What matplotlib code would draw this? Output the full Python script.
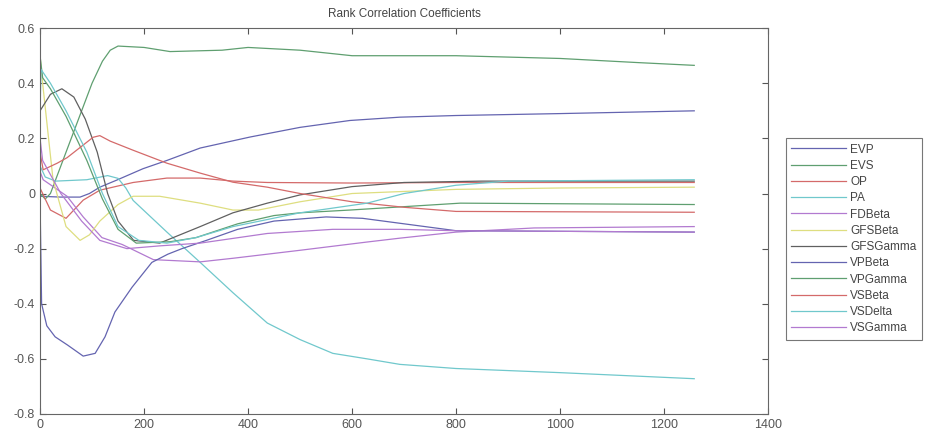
import numpy as np
from matplotlib import pyplot as plt

# values (x = iteration, y = rank correlation)
labels = ["EVP", "EVS", "OP", "PA", "FDBeta", "GFSBeta", "GFSGamma",
          "VPBeta", "VPGamma", "VSBeta", "VSDelta", "VSGamma"]

evp_x = [0, 40, 77, 95, 115, 148, 198, 244, 308, 404, 500, 596, 692, 800, 1000, 1258]
evp_y = [-0.01, -0.013, -0.013, 0.0, 0.023, 0.049, 0.09, 0.12, 0.165, 0.205, 0.24, 0.265, 0.277, 0.283, 0.29, 0.30]

evs_x = [0, 10, 20, 60, 100, 120, 135, 150, 200, 250, 350, 400, 500, 600, 800, 1000, 1150, 1258]
evs_y = [0.0, -0.02, 0.0, 0.2, 0.4, 0.48, 0.52, 0.535, 0.53, 0.515, 0.52, 0.53, 0.52, 0.5, 0.5, 0.49, 0.475, 0.465]

op_x = [0, 20, 50, 83, 115, 179, 244, 308, 371, 437, 600, 800, 1258]
op_y = [0.02, -0.06, -0.09, -0.024, 0.012, 0.04, 0.056, 0.056, 0.045, 0.04, 0.038, 0.04, 0.04]

pa_x = [0, 10, 30, 90, 130, 150, 165, 179, 244, 308, 371, 437, 500, 563, 629, 692, 800, 1000, 1258]
pa_y = [0.1, 0.06, 0.045, 0.05, 0.065, 0.055, 0.02, -0.025, -0.14, -0.25, -0.36, -0.47, -0.53, -0.58, -0.6, -0.62, -0.635, -0.65, -0.672]

fdbeta_x = [0, 6, 52, 83, 119, 158, 218, 308, 371, 500, 629, 692, 800, 950, 1258]
fdbeta_y = [0.08, 0.05, -0.01, -0.085, -0.16, -0.185, -0.24, -0.248, -0.235, -0.206, -0.176, -0.162, -0.14, -0.125, -0.12]

gfsbeta_x = [0, 5, 25, 50, 77, 95, 115, 150, 179, 230, 308, 371, 420, 500, 600, 800, 1000, 1258]
gfsbeta_y = [0.5, 0.4, 0.05, -0.12, -0.17, -0.15, -0.1, -0.04, -0.01, -0.01, -0.035, -0.06, -0.06, -0.03, 0.0, 0.015, 0.02, 0.023]

gfsgamma_x = [0, 20, 42, 65, 87, 110, 130, 150, 180, 230, 308, 371, 437, 500, 600, 700, 850, 1258]
gfsgamma_y = [0.3, 0.36, 0.38, 0.35, 0.27, 0.15, 0.0, -0.1, -0.17, -0.18, -0.12, -0.07, -0.035, -0.005, 0.025, 0.04, 0.045, 0.045]

vpbeta_x = [0, 3, 13, 29, 53, 83, 106, 125, 144, 177, 215, 246, 273, 320, 380, 450, 550, 620, 700, 800, 1258]
vpbeta_y = [-0.02, -0.4, -0.48, -0.52, -0.55, -0.59, -0.58, -0.52, -0.43, -0.34, -0.25, -0.22, -0.2, -0.17, -0.13, -0.1, -0.085, -0.09, -0.11, -0.135, -0.14]

vpgamma_x = [0, 5, 20, 50, 90, 120, 150, 185, 250, 300, 380, 450, 500, 596, 808, 1258]
vpgamma_y = [0.5, 0.42, 0.38, 0.28, 0.12, -0.02, -0.13, -0.18, -0.175, -0.16, -0.11, -0.08, -0.07, -0.06, -0.035, -0.04]

vsbeta_x = [0, 6, 33, 52, 102, 115, 135, 179, 244, 308, 371, 437, 500, 600, 700, 800, 1258]
vsbeta_y = [0.15, 0.086, 0.11, 0.13, 0.204, 0.21, 0.19, 0.157, 0.11, 0.074, 0.041, 0.023, 0.0, -0.03, -0.05, -0.065, -0.068]

vsdelta_x = [0, 2, 20, 50, 90, 120, 150, 190, 244, 300, 371, 500, 629, 700, 800, 900, 1258]
vsdelta_y = [0.3, 0.45, 0.4, 0.3, 0.15, 0.0, -0.12, -0.17, -0.18, -0.16, -0.12, -0.07, -0.035, 0.0, 0.03, 0.045, 0.05]

vsgamma_x = [0, 5, 40, 80, 115, 167, 230, 308, 437, 563, 692, 800, 1258]
vsgamma_y = [0.2, 0.12, 0.0, -0.1, -0.17, -0.2, -0.19, -0.18, -0.145, -0.13, -0.13, -0.135, -0.14]

xs = [evp_x, evs_x, op_x, pa_x, fdbeta_x, gfsbeta_x, gfsgamma_x,
      vpbeta_x, vpgamma_x, vsbeta_x, vsdelta_x, vsgamma_x]
ys = [evp_y, evs_y, op_y, pa_y, fdbeta_y, gfsbeta_y, gfsgamma_y,
      vpbeta_y, vpgamma_y, vsbeta_y, vsdelta_y, vsgamma_y]

# washed-out matlab colour order b g r c m y k
cycle = ['#6464b0', '#5f9f70', '#d46a6a', '#70c8cc', '#b27ad0', '#dede80', '#606060']

plt.rcParams['font.family'] = ['Liberation Sans', 'DejaVu Sans']
fig = plt.figure(figsize=(9.31, 4.44), dpi=100)
ax = fig.add_axes([0.043, 0.0676, 0.782, 0.869])

for i, (x, y) in enumerate(zip(xs, ys)):
    ax.plot(x, y, color=cycle[i % 7], lw=0.9, label=labels[i])

ax.set_xlim(0, 1400)
ax.set_ylim(-0.8, 0.6)
ax.set_xticks(np.arange(0, 1401, 200))
ax.set_yticks(np.arange(-0.8, 0.61, 0.2))
ax.set_yticklabels(['-0.8', '-0.6', '-0.4', '-0.2', '0', '0.2', '0.4', '0.6'])
ax.tick_params(direction='in', top=True, right=True, length=4, labelsize=9,
               colors='#555555', width=0.8)
for s in ax.spines.values():
    s.set_color('#666666')
ax.set_title('Rank Correlation Coefficients', fontsize=8.5, color='#444444', pad=8)

leg = fig.legend(loc='upper left', bbox_to_anchor=(0.838, 0.702), fontsize=8.5,
                 handlelength=4.6, labelspacing=0.36, fancybox=False,
                 edgecolor='#555555', borderpad=0.45, handletextpad=0.4)
leg.get_frame().set_linewidth(0.8)
for t in leg.get_texts():
    t.set_color('#444444')

plt.savefig('out.png', dpi=100)
